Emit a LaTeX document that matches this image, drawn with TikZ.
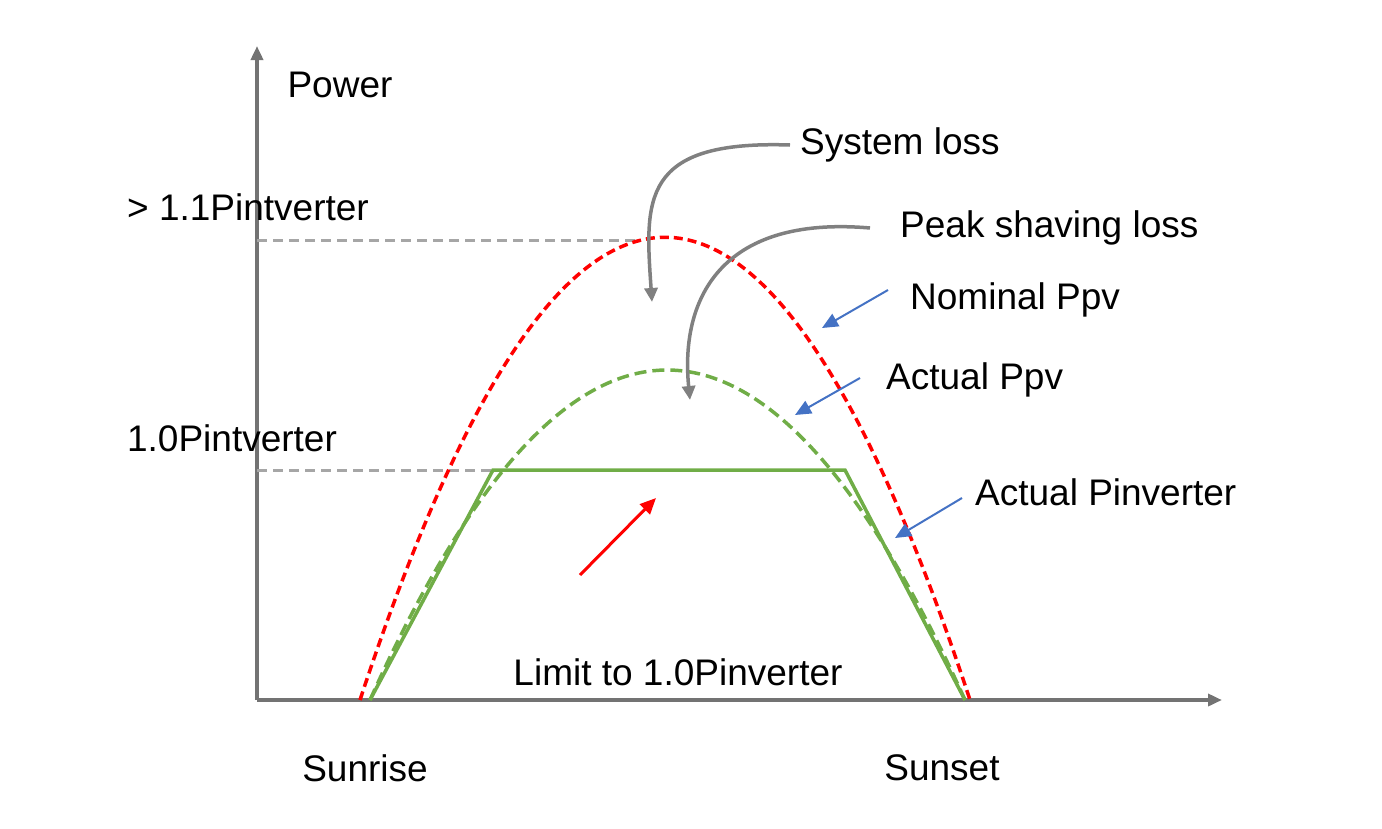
\documentclass[tikz,border=0pt]{standalone}
\usepackage{fontspec}
\setmainfont{Liberation Sans}
\usetikzlibrary{arrows.meta,positioning}
\definecolor{pvgreen}{RGB}{112,173,71}
\definecolor{ptrblue}{RGB}{68,114,196}
\begin{document}
\begin{tikzpicture}[x=1pt,y=-1pt,
   axis_line/.style={draw=gray!90!black,line width=3.5pt,-{Triangle[length=14pt,width=12pt]}},
   guide_line/.style={draw=gray!70,line width=3pt,dash pattern=on 10pt off 6pt},
   pv_red/.style={draw=red,line width=3.5pt,dash pattern=on 9pt off 5pt},
   pv_green/.style={draw=pvgreen,line width=3.5pt,dash pattern=on 12pt off 6pt},
   inv_green/.style={draw=pvgreen,line width=3.5pt},
   arrow_gray/.style={draw=gray,line width=3.5pt,-{Triangle[length=14pt,width=13pt]}},
   arrow_blue/.style={draw=ptrblue,line width=2pt,-{Triangle[length=16pt,width=14pt]}},
   arrow_red/.style={draw=red,line width=3pt,-{Triangle[length=16pt,width=14pt]}},
   lbl/.style={font=\fontsize{37}{44}\selectfont,inner sep=0pt}
]
   \useasboundingbox (0,0) rectangle (1382,828);
   % axes
   \coordinate (o) at (257,700);
   \coordinate (ytop) at (257,46);
   \coordinate (xend) at (1222,700);
   \draw[axis_line] (o) -- (ytop);
   \draw[axis_line] (o) -- (xend);

   % guides
   \coordinate (g1) at (257,240);
   \coordinate (g1e) at (640,240);
   \coordinate (g2) at (257,470);
   \coordinate (g2e) at (493,470);
   \draw[guide_line] (g1) -- (g1e);
   \draw[guide_line] (g2) -- (g2e);

   % curves
   \draw[pv_red] (360,700) .. controls (563,83) and (767,83) .. (970,700);
   \draw[pv_green] (370,700) .. controls (568,260) and (766,260) .. (965,700);
   \draw[inv_green] (370,700) -- (493,470) -- (845,470) -- (965,700);

   % labels
   \node[lbl] (power) at (340,85) {Power};
   \node[lbl] (pmax) at (248,207) {> 1.1Pintverter};
   \node[lbl] (pone) at (232,438) {1.0Pintverter};
   \node[lbl] (sunrise) at (365,768) {Sunrise};
   \node[lbl] (sunset) at (942,768) {Sunset};
   \node[lbl] (limit) at (678,672) {Limit to 1.0Pinverter};
   \node[lbl,anchor=west] (sysloss) at (800,145) {System loss};
   \node[lbl,anchor=west] (peakloss) at (900,228) {Peak shaving loss};
   \node[lbl,anchor=west] (nomppv) at (910,300) {Nominal Ppv};
   \node[lbl,anchor=west] (actppv) at (886,380) {Actual Ppv};
   \node[lbl,anchor=west] (actpinv) at (975,492) {Actual Pinverter};

   % pointers
   \coordinate (sl) at (652,302);
   \coordinate (pl) at (690,400);
   \draw[arrow_gray] ([xshift=-10pt]sysloss.west) .. controls (640,140) and (645,200) .. (sl);
   \draw[arrow_gray] ([xshift=-30pt]peakloss.west) .. controls (720,215) and (680,300) .. (pl);
   \coordinate (nomtip) at (822,328);
   \coordinate (acttip) at (795,415);
   \coordinate (invtip) at (895,538);
   \draw[arrow_blue] (888,290) -- (nomtip);
   \draw[arrow_blue] (860,378) -- (acttip);
   \draw[arrow_blue] (962,498) -- (invtip);
   \coordinate (rs) at (580,575);
   \coordinate (re) at (656,498);
   \draw[arrow_red] (rs) -- (re);
\end{tikzpicture}
\end{document}
